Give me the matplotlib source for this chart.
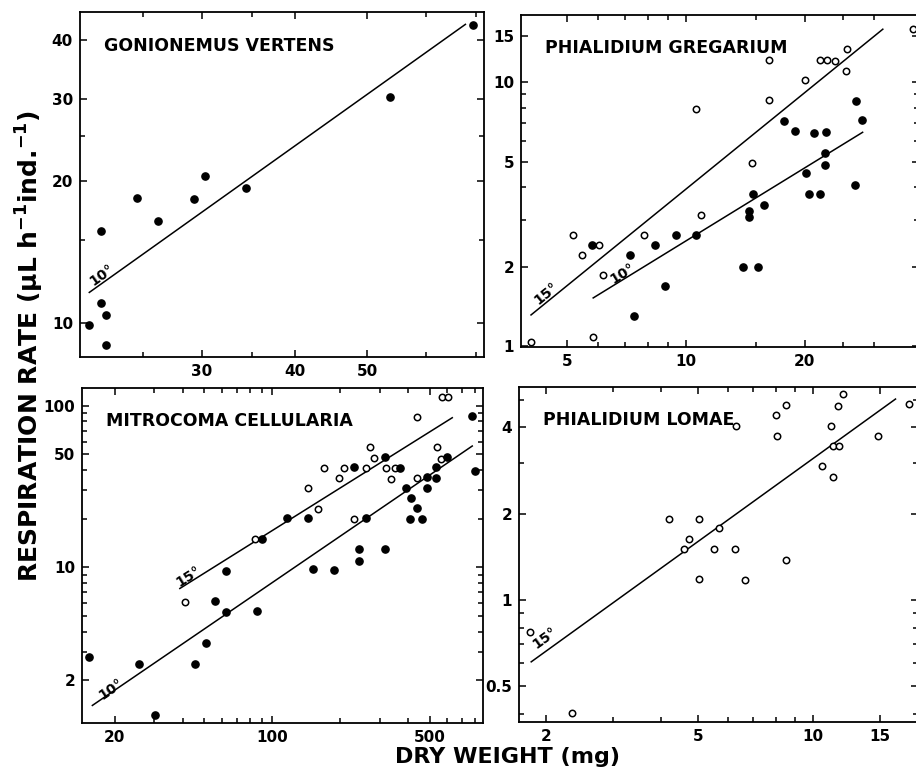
import numpy as np
import matplotlib
matplotlib.use("Agg")
import matplotlib.pyplot as plt
from matplotlib.ticker import FixedLocator, FixedFormatter, NullFormatter

# ==========================================
# CONFIGURATION
# ==========================================
OUT_FILE = "out.png"
plt.rcParams['font.family'] = ['DejaVu Sans']
plt.rcParams['font.weight'] = 'bold'
plt.rcParams['mathtext.default'] = 'bf'

# ==========================================
# DATA
# ==========================================
# Gonionemus vertens, 10 deg (filled)
GV_DW_10 = [21.2, 22.0, 22.0, 22.3, 22.3, 24.6, 26.2, 29.3, 30.3, 34.4, 53.6, 69.2]
GV_RESP_10 = [9.9, 15.7, 11.0, 10.4, 8.95, 18.4, 16.5, 18.3, 20.5, 19.4, 30.3, 43.0]
GV_FIT_DW_10 = [21.2, 67.7]
GV_FIT_RESP_10 = [11.6, 43.2]

# Phialidium gregarium, 15 deg (open) and 10 deg (filled)
PG_DW_15 = [4.05, 5.16, 5.44, 6.01, 5.80, 6.16, 7.84, 10.6, 10.9, 14.7, 16.2, 16.2,
            20.0, 21.8, 22.7, 23.9, 25.5, 25.4, 37.5]
PG_RESP_15 = [1.03, 2.63, 2.21, 2.42, 1.08, 1.85, 2.64, 7.9, 3.14, 4.96, 8.57, 12.15,
              10.2, 12.15, 12.15, 12.0, 13.4, 11.07, 15.9]
PG_DW_10 = [5.78, 7.23, 7.37, 8.33, 8.85, 9.45, 10.6, 13.9, 14.4, 14.4, 14.8, 15.2, 15.8,
            17.7, 18.9, 20.1, 20.5, 21.1, 21.8, 22.6, 22.5, 22.5, 27.0, 26.8, 27.9]
PG_RESP_10 = [2.42, 2.21, 1.30, 2.41, 1.68, 2.63, 2.64, 2.0, 3.26, 3.08, 3.76, 2.0, 3.42,
              7.13, 6.53, 4.52, 3.76, 6.44, 3.76, 6.47, 5.41, 4.87, 8.52, 4.08, 7.18]
PG_FIT_DW_15 = [4.05, 31.5]
PG_FIT_RESP_15 = [1.31, 15.9]
PG_FIT_DW_10 = [5.82, 28.0]
PG_FIT_RESP_10 = [1.52, 6.46]

# Mitrocoma cellularia, 15 deg (open) and 10 deg (filled)
MC_DW_15 = [41.1, 83.8, 143.6, 160, 169.8, 197.9, 207.6, 230, 260, 271.8, 284, 319, 338,
            353, 438, 438, 541, 564, 570, 606]
MC_RESP_15 = [6.07, 15.0, 30.8, 23.0, 41.4, 35.6, 41.4, 19.8, 41.4, 55.3, 47.5, 41.4, 35.2,
              41.4, 85.6, 35.6, 55.3, 46.6, 112.9, 112.9]
MC_DW_10 = [15.3, 25.5, 30.1, 45.5, 50.7, 55.5, 62.1, 62.2, 85.3, 89.7, 116.2, 144, 151.7,
            188, 230, 242, 242, 260, 318, 317, 369.5, 393, 413, 408.5, 438, 461, 486, 488,
            532, 533, 599, 772, 794]
MC_RESP_10 = [2.80, 2.52, 1.23, 2.54, 3.43, 6.18, 5.27, 9.53, 5.34, 15.0, 20.1, 20.1, 9.72,
              9.62, 41.6, 12.98, 10.9, 20.1, 48.0, 12.98, 41.4, 30.8, 27.0, 19.9, 23.4, 19.9,
              36.1, 31.1, 41.8, 35.9, 48.0, 86.4, 39.5]
MC_FIT_DW_15 = [38.9, 631]
MC_FIT_RESP_15 = [7.41, 84.4]
MC_FIT_DW_10 = [15.9, 774]
MC_FIT_RESP_10 = [1.40, 56.4]

# Phialidium lomae, 15 deg (open)
PL_DW_15 = [1.82, 2.34, 4.20, 4.59, 4.73, 5.03, 5.05, 5.52, 5.70, 6.25, 6.29, 6.67, 8.02,
            8.05, 8.50, 8.53, 10.6, 11.2, 11.3, 11.3, 11.65, 11.7, 12.0, 14.86, 17.9]
PL_RESP_15 = [0.772, 0.404, 1.92, 1.50, 1.63, 1.92, 1.18, 1.50, 1.78, 1.50, 4.04, 1.17, 4.40,
              3.73, 4.79, 1.38, 2.92, 4.05, 3.44, 2.69, 4.75, 3.44, 5.22, 3.73, 4.83]
PL_FIT_DW_15 = [1.83, 16.5]
PL_FIT_RESP_15 = [0.608, 5.02]

# ==========================================
# HELPERS
# ==========================================
def setup_axis(ax, xlim, ylim, xmajor, xminor, ymajor, yminor):
    ax.set_xscale('log')
    ax.set_yscale('log')
    ax.set_xlim(*xlim)
    ax.set_ylim(*ylim)
    ax.xaxis.set_major_locator(FixedLocator(xmajor))
    ax.xaxis.set_major_formatter(FixedFormatter([f"{v:g}" for v in xmajor]))
    ax.xaxis.set_minor_locator(FixedLocator(xminor))
    ax.xaxis.set_minor_formatter(NullFormatter())
    ax.yaxis.set_major_locator(FixedLocator(ymajor))
    ax.yaxis.set_major_formatter(FixedFormatter([f"{v:g}" for v in ymajor]))
    ax.yaxis.set_minor_locator(FixedLocator(yminor))
    ax.yaxis.set_minor_formatter(NullFormatter())
    ax.tick_params(which='both', direction='in', top=True, right=True,
                   labelsize=11, width=1.1, pad=5)
    ax.tick_params(which='major', length=5)
    ax.tick_params(which='minor', length=3.5)
    for sp in ax.spines.values():
        sp.set_linewidth(1.3)


def scatter(ax, x, y, filled):
    if filled:
        ax.plot(x, y, 'o', color='black', ms=5.2, zorder=3)
    else:
        ax.plot(x, y, 'o', mfc='white', mec='black', mew=1.1, ms=4.6, zorder=3)


def fit_line(ax, x, y, label, offset):
    ax.plot(x, y, '-', color='black', lw=1.1, zorder=2)
    # rotate the temperature label along the line (screen angle)
    p0, p1 = ax.transData.transform([[x[0], y[0]], [x[1], y[1]]])
    angle = np.degrees(np.arctan2(p1[1] - p0[1], p1[0] - p0[0]))
    ax.annotate(label, (x[0], y[0]), xytext=offset, textcoords='offset points',
                rotation=angle, rotation_mode='anchor', ha='center', va='center',
                fontsize=10, fontweight='bold')


def title(ax, text):
    ax.text(0.06, 0.90, text, transform=ax.transAxes, fontsize=12.5,
            fontweight='bold', ha='left', va='center')

# ==========================================
# MAIN
# ==========================================
def main():
    W, H = 916, 767
    fig = plt.figure(figsize=(W / 100, H / 100), dpi=100)

    def box(l, t, r, b):
        return [l / W, 1 - b / H, (r - l) / W, (b - t) / H]

    ax_gv = fig.add_axes(box(80, 12, 484, 357))
    ax_pg = fig.add_axes(box(521, 15, 919, 347))
    ax_mc = fig.add_axes(box(82, 388, 483, 723))
    ax_pl = fig.add_axes(box(519, 387, 918, 722))

    # Gonionemus vertens
    setup_axis(ax_gv, (20.6, 71.7), (8.45, 45.9),
               [30, 40, 50], [25, 35, 60, 70], [10, 20, 30, 40], [15, 25])
    scatter(ax_gv, GV_DW_10, GV_RESP_10, True)
    fit_line(ax_gv, GV_FIT_DW_10, GV_FIT_RESP_10, "10°", (9, 12.5))
    title(ax_gv, "GONIONEMUS VERTENS")

    # Phialidium gregarium
    setup_axis(ax_pg, (3.82, 38.9), (0.99, 18.0),
               [5, 10, 20], [6, 7, 8, 9, 15, 25, 30], [1, 2, 5, 10, 15], [3, 4, 6, 7, 8, 9])
    scatter(ax_pg, PG_DW_15, PG_RESP_15, False)
    scatter(ax_pg, PG_DW_10, PG_RESP_10, True)
    fit_line(ax_pg, PG_FIT_DW_15, PG_FIT_RESP_15, "15°", (11, 15.5))
    fit_line(ax_pg, PG_FIT_DW_10, PG_FIT_RESP_10, "10°", (21.5, 17.5))
    title(ax_pg, "PHIALIDIUM GREGARIUM")

    # Mitrocoma cellularia
    setup_axis(ax_mc, (14.3, 864), (1.09, 128.9),
               [20, 100, 500],
               [30, 40, 50, 60, 70, 80, 90, 200, 300, 400, 600, 700, 800],
               [2, 10, 50, 100],
               [3, 4, 5, 6, 7, 8, 9, 20, 30, 40, 60, 70, 80, 90])
    scatter(ax_mc, MC_DW_15, MC_RESP_15, False)
    scatter(ax_mc, MC_DW_10, MC_RESP_10, True)
    fit_line(ax_mc, MC_FIT_DW_15, MC_FIT_RESP_15, "15°", (6, 8.5))
    fit_line(ax_mc, MC_FIT_DW_10, MC_FIT_RESP_10, "10°", (13.5, 12))
    title(ax_mc, "MITROCOMA CELLULARIA")

    # Phialidium lomae
    setup_axis(ax_pl, (1.70, 18.9), (0.375, 5.53),
               [2, 5, 10, 15], [3, 4, 6, 7, 8, 9],
               [0.5, 1, 2, 4], [0.4, 0.6, 0.7, 0.8, 0.9, 3, 5])
    scatter(ax_pl, PL_DW_15, PL_RESP_15, False)
    fit_line(ax_pl, PL_FIT_DW_15, PL_FIT_RESP_15, "15°", (10, 17))
    title(ax_pl, "PHIALIDIUM LOMAE")

    fig.text(30 / W, 1 - 346 / H, r"RESPIRATION RATE (μL h$^{-1}$ind.$^{-1}$)",
             rotation=90, ha='center', va='center', fontsize=18, fontweight='bold')
    fig.text(508 / W, 1 - 763 / H, "DRY WEIGHT (mg)", ha='center', va='baseline',
             fontsize=16, fontweight='bold')

    fig.savefig(OUT_FILE, dpi=100)
    plt.close(fig)


if __name__ == '__main__':
    main()
